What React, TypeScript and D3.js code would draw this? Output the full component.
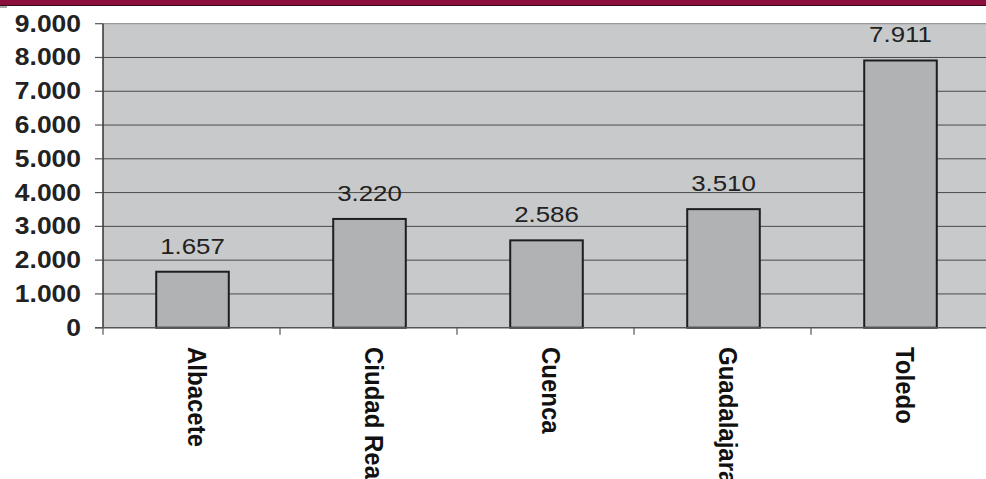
import React from "react";
import * as d3 from "d3";

const categories = ["Albacete", "Ciudad Real", "Cuenca", "Guadalajara", "Toledo"];
const values = [1657, 3220, 2586, 3510, 7911];
const yTicks = [0, 1000, 2000, 3000, 4000, 5000, 6000, 7000, 8000, 9000];

const W = 986;
const H = 479;
const left = 103;
const right = 988;
const top = 23.7;
const bottom = 327.7;

const locale = d3.formatLocale({ decimal: ",", thousands: ".", grouping: [3], currency: ["", "€"] });
const fmt = locale.format(",d");

export default function App() {
  const x = d3.scaleBand<string>().domain(categories).range([left, right]).padding(0);
  const y = d3.scaleLinear().domain([0, 9000]).range([bottom, top]);
  const barW = x.bandwidth() * 0.41;
  const font = "'Liberation Sans', Arial, Helvetica, sans-serif";

  return (
    <svg width={W} height={H} style={{ position: "absolute", left: 0, top: 0, background: "#fff" }}>
      {/* top band */}
      <rect x={0} y={0} width={W} height={5} fill="#8A0F3C" />
      <line x1={0} x2={W} y1={5.5} y2={5.5} stroke="#3a0a18" strokeWidth={1} />
      <rect x={0} y={6} width={7} height={2} fill="#aaa" />

      {/* plot area */}
      <rect x={left} y={top} width={right - left} height={bottom - top} fill="#C8C9CB" />
      <line x1={left} x2={right} y1={top} y2={top} stroke="#999" strokeWidth={1.2} />
      {yTicks.filter((t) => t > 0 && t < 9000).map((t) => (
        <line key={t} x1={left} x2={right} y1={y(t)} y2={y(t)} stroke="#4a4a4a" strokeWidth={1} />
      ))}

      {/* bars */}
      {categories.map((c, i) => {
        const cx = (x(c) as number) + x.bandwidth() / 2;
        return (
          <g key={c}>
            <rect
              x={cx - barW / 2 + 1}
              y={y(values[i])}
              width={barW}
              height={bottom - y(values[i])}
              fill="#B1B2B4"
              stroke="#1e1e1e"
              strokeWidth={2}
            />
            <text
              transform={`translate(${cx + 1},${y(values[i]) - 18}) scale(1.15,1)`}
              textAnchor="middle"
              fontFamily={font}
              fontSize={22.5}
              fill="#222"
            >
              {fmt(values[i])}
            </text>
            <text
              transform={`translate(${cx - 4},347) rotate(90) scale(1,1.1)`}
              textAnchor="start"
              fontFamily={font}
              fontWeight="bold"
              fontSize={24}
              fill="#111"
            >
              {c}
            </text>
          </g>
        );
      })}

      {/* axes */}
      <line x1={left} x2={left} y1={top} y2={bottom} stroke="#333" strokeWidth={1.5} />
      <line x1={95} x2={right} y1={bottom} y2={bottom} stroke="#555" strokeWidth={1.5} />
      {yTicks.map((t) => (
        <g key={t}>
          <line x1={95} x2={left} y1={y(t)} y2={y(t)} stroke="#555" strokeWidth={1.2} />
          <text
            transform={`translate(81,${y(t) + 8}) scale(1.15,1)`}
            textAnchor="end"
            fontFamily={font}
            fontWeight="bold"
            fontSize={23}
            fill="#222"
          >
            {fmt(t)}
          </text>
        </g>
      ))}
      {categories.map((c) => (
        <line key={c} x1={x(c) as number} x2={x(c) as number} y1={bottom} y2={bottom + 7} stroke="#555" strokeWidth={1.2} />
      ))}
      <line x1={right} x2={right} y1={bottom} y2={bottom + 7} stroke="#555" strokeWidth={1.2} />
    </svg>
  );
}
